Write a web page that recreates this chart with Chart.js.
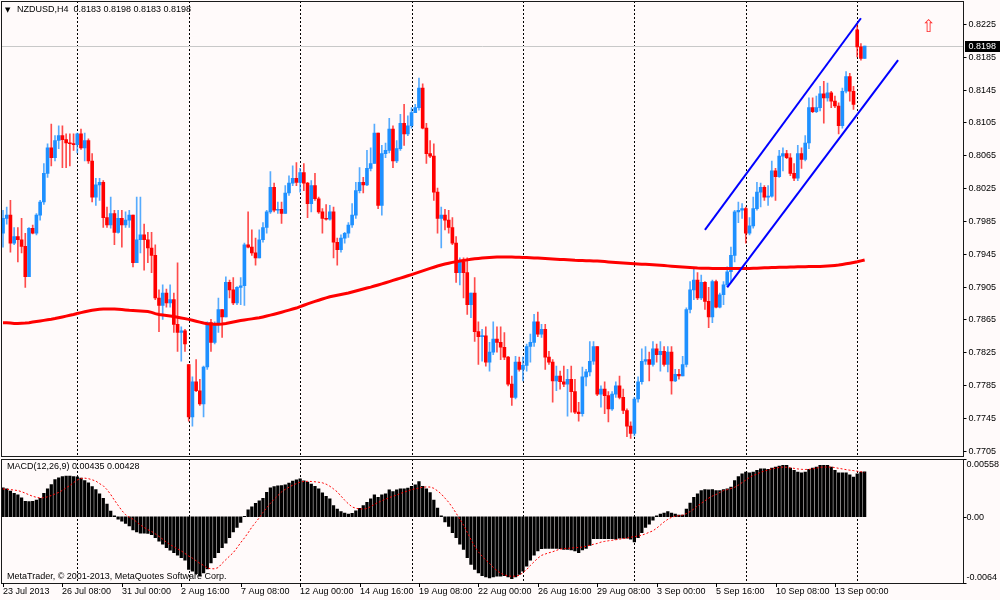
<!DOCTYPE html>
<html><head><meta charset="utf-8">
<script src="https://cdn.jsdelivr.net/npm/chart.js@4.4.1/dist/chart.umd.min.js"></script>
<style>
html,body{margin:0;padding:0;background:#FFFAFA;width:1000px;height:600px;overflow:hidden;}
canvas{position:absolute;left:0;}
#main{top:0;} #macd{top:457px;}
</style></head><body>
<canvas id="main" width="1000" height="457"></canvas>
<canvas id="macd" width="1000" height="143"></canvas>
<script>
const SYMBOL = 'NZDUSD,H4';
const open = [
0.7970,0.7988,0.7992,0.7958,0.7966,0.7962,0.7954,0.7917,0.7976,0.7970,
0.7992,0.8008,0.8043,0.8074,0.8062,0.8083,0.8089,0.8084,0.8080,0.8079,
0.8078,0.8091,0.8074,0.8083,0.8058,0.8014,0.8029,0.8032,0.7989,0.7980,
0.7994,0.7971,0.7988,0.7980,0.7986,0.7992,0.7934,0.7962,0.7968,0.7962,
0.7952,0.7943,0.7891,0.7882,0.7897,0.7885,0.7889,0.7859,0.7849,0.7851,
0.7810,0.7746,0.7789,0.7778,0.7762,0.7807,0.7861,0.7837,0.7859,0.7877,
0.7868,0.7910,0.7901,0.7885,0.7904,0.7906,0.7956,0.7953,0.7946,0.7940,
0.7962,0.7977,0.7996,0.8026,0.7998,0.7999,0.7994,0.8019,0.8031,0.8037,
0.8032,0.8044,0.8031,0.8006,0.8028,0.8012,0.7996,0.7988,0.7987,0.7996,
0.7959,0.7950,0.7964,0.7970,0.7980,0.7992,0.8022,0.8032,0.8029,0.8049,
0.8055,0.8092,0.8004,0.8067,0.8071,0.8097,0.8058,0.8073,0.8104,0.8091,
0.8101,0.8117,0.8123,0.8147,0.8098,0.8067,0.8064,0.8020,0.7988,0.7992,
0.7986,0.7977,0.7958,0.7922,0.7935,0.7922,0.7883,0.7897,0.7850,0.7844,
0.7845,0.7813,0.7825,0.7841,0.7837,0.7831,0.7819,0.7786,0.7770,0.7813,
0.7804,0.7809,0.7832,0.7837,0.7862,0.7847,0.7853,0.7819,0.7813,0.7790,
0.7796,0.7789,0.7786,0.7792,0.7777,0.7752,0.7750,0.7795,0.7801,0.7814,
0.7832,0.7774,0.7780,0.7772,0.7756,0.7774,0.7784,0.7770,0.7754,0.7735,
0.7726,0.7768,0.7789,0.7814,0.7816,0.7810,0.7829,0.7822,0.7826,0.7810,
0.7825,0.7790,0.7798,0.7796,0.7810,0.7877,0.7901,0.7913,0.7891,0.7910,
0.7887,0.7868,0.7911,0.7880,0.7895,0.7907,0.7923,0.7943,0.7996,0.7998,
0.8000,0.7970,0.7979,0.8000,0.8020,0.8026,0.8014,0.8015,0.8046,0.8039,
0.8064,0.8067,0.8062,0.8043,0.8037,0.8067,0.8060,0.8080,0.8123,0.8118,
0.8123,0.8140,0.8135,0.8141,0.8131,0.8125,0.8101,0.8143,0.8161,0.8143,
0.8218,0.8197,0.8183];
const high = [
0.7998,0.8002,0.8010,0.7977,0.7977,0.7988,0.7970,0.7977,0.7980,0.7994,
0.8010,0.8055,0.8079,0.8103,0.8089,0.8101,0.8101,0.8091,0.8091,0.8091,
0.8092,0.8097,0.8092,0.8085,0.8067,0.8037,0.8037,0.8034,0.8002,0.8014,
0.7998,0.7998,0.7998,0.7996,0.7998,0.7992,0.8014,0.8014,0.7981,0.7971,
0.7971,0.7956,0.7901,0.7907,0.7902,0.7907,0.7897,0.7934,0.7856,0.7853,
0.7810,0.7795,0.7816,0.7792,0.7808,0.7862,0.7865,0.7862,0.7891,0.7877,
0.7917,0.7913,0.7916,0.7905,0.7916,0.7958,0.7996,0.7974,0.7964,0.7974,
0.7983,0.7998,0.8045,0.8031,0.8008,0.8008,0.8028,0.8040,0.8052,0.8056,
0.8049,0.8055,0.8032,0.8034,0.8043,0.8014,0.8000,0.8005,0.8004,0.8002,
0.7964,0.7968,0.7971,0.7983,0.8006,0.8032,0.8050,0.8038,0.8071,0.8074,
0.8103,0.8092,0.8077,0.8080,0.8110,0.8101,0.8083,0.8115,0.8127,0.8113,
0.8123,0.8127,0.8159,0.8152,0.8104,0.8083,0.8079,0.8025,0.8002,0.7999,
0.7998,0.7989,0.7966,0.7940,0.7940,0.7940,0.7897,0.7916,0.7862,0.7853,
0.7856,0.7837,0.7862,0.7856,0.7856,0.7849,0.7820,0.7796,0.7820,0.7819,
0.7819,0.7835,0.7847,0.7871,0.7874,0.7859,0.7859,0.7826,0.7816,0.7808,
0.7802,0.7808,0.7804,0.7808,0.7792,0.7764,0.7807,0.7804,0.7838,0.7838,
0.7832,0.7784,0.7789,0.7777,0.7777,0.7789,0.7796,0.7780,0.7756,0.7740,
0.7770,0.7795,0.7829,0.7832,0.7825,0.7838,0.7835,0.7838,0.7832,0.7832,
0.7832,0.7804,0.7804,0.7820,0.7879,0.7911,0.7928,0.7922,0.7919,0.7911,
0.7904,0.7913,0.7913,0.7897,0.7911,0.7929,0.7953,0.7998,0.8008,0.8006,
0.8002,0.7989,0.8014,0.8032,0.8031,0.8028,0.8028,0.8058,0.8049,0.8071,
0.8074,0.8071,0.8067,0.8055,0.8077,0.8074,0.8089,0.8135,0.8135,0.8137,
0.8149,0.8155,0.8153,0.8143,0.8137,0.8129,0.8147,0.8167,0.8165,0.8149,
0.8225,0.8201,0.8198];
const low = [
0.7953,0.7981,0.7947,0.7956,0.7935,0.7946,0.7904,0.7917,0.7969,0.7968,
0.7986,0.8005,0.8038,0.8052,0.8058,0.8073,0.8050,0.8050,0.8052,0.8071,
0.8068,0.8072,0.8058,0.8055,0.8008,0.8004,0.8010,0.7977,0.7977,0.7976,
0.7956,0.7970,0.7953,0.7977,0.7977,0.7929,0.7934,0.7946,0.7925,0.7934,
0.7922,0.7889,0.7850,0.7865,0.7880,0.7880,0.7849,0.7826,0.7814,0.7826,
0.7741,0.7735,0.7777,0.7760,0.7746,0.7804,0.7826,0.7835,0.7849,0.7843,
0.7868,0.7891,0.7883,0.7883,0.7883,0.7882,0.7952,0.7943,0.7931,0.7940,
0.7959,0.7970,0.7994,0.7996,0.7994,0.7982,0.7994,0.8016,0.8028,0.8028,
0.8020,0.8022,0.7989,0.7996,0.8010,0.7994,0.7970,0.7986,0.7986,0.7940,
0.7931,0.7947,0.7958,0.7965,0.7977,0.7988,0.8019,0.8019,0.8028,0.8046,
0.8055,0.8000,0.7992,0.8062,0.8068,0.8050,0.8056,0.8071,0.8077,0.8089,
0.8098,0.8117,0.8120,0.8097,0.8055,0.8062,0.8010,0.7970,0.7952,0.7974,
0.7970,0.7956,0.7910,0.7907,0.7891,0.7871,0.7867,0.7838,0.7810,0.7814,
0.7808,0.7802,0.7822,0.7825,0.7816,0.7816,0.7784,0.7760,0.7768,0.7802,
0.7790,0.7802,0.7813,0.7832,0.7844,0.7843,0.7804,0.7810,0.7764,0.7778,
0.7780,0.7783,0.7747,0.7752,0.7750,0.7741,0.7747,0.7784,0.7796,0.7810,
0.7772,0.7758,0.7750,0.7740,0.7754,0.7770,0.7768,0.7750,0.7722,0.7720,
0.7723,0.7764,0.7786,0.7810,0.7790,0.7808,0.7813,0.7802,0.7808,0.7801,
0.7774,0.7789,0.7792,0.7796,0.7807,0.7873,0.7889,0.7889,0.7889,0.7877,
0.7855,0.7861,0.7879,0.7879,0.7883,0.7905,0.7910,0.7935,0.7983,0.7988,
0.7958,0.7968,0.7976,0.7998,0.8002,0.8010,0.8004,0.8014,0.8010,0.8038,
0.8046,0.8061,0.8040,0.8034,0.8034,0.8049,0.8058,0.8073,0.8117,0.8117,
0.8119,0.8104,0.8131,0.8123,0.8123,0.8091,0.8098,0.8141,0.8131,0.8121,
0.8185,0.8181,0.8183];
const close = [
0.7988,0.7992,0.7958,0.7966,0.7962,0.7954,0.7917,0.7976,0.7970,0.7992,
0.8008,0.8043,0.8074,0.8062,0.8083,0.8089,0.8084,0.8080,0.8079,0.8078,
0.8091,0.8074,0.8083,0.8058,0.8014,0.8029,0.8032,0.7989,0.7980,0.7994,
0.7971,0.7988,0.7980,0.7986,0.7992,0.7934,0.7962,0.7968,0.7962,0.7952,
0.7943,0.7891,0.7882,0.7897,0.7885,0.7889,0.7859,0.7849,0.7851,0.7835,
0.7746,0.7789,0.7778,0.7762,0.7807,0.7861,0.7837,0.7859,0.7877,0.7868,
0.7910,0.7901,0.7885,0.7904,0.7906,0.7956,0.7953,0.7946,0.7940,0.7962,
0.7977,0.7996,0.8026,0.7998,0.7999,0.7994,0.8019,0.8031,0.8037,0.8032,
0.8044,0.8031,0.8006,0.8028,0.8012,0.7996,0.7988,0.7987,0.7996,0.7959,
0.7950,0.7964,0.7970,0.7980,0.7992,0.8022,0.8032,0.8029,0.8049,0.8055,
0.8092,0.8004,0.8067,0.8071,0.8097,0.8058,0.8073,0.8104,0.8091,0.8101,
0.8117,0.8123,0.8147,0.8098,0.8067,0.8064,0.8020,0.7988,0.7992,0.7986,
0.7977,0.7958,0.7922,0.7935,0.7922,0.7883,0.7897,0.7850,0.7844,0.7845,
0.7813,0.7825,0.7841,0.7837,0.7831,0.7819,0.7786,0.7770,0.7813,0.7804,
0.7809,0.7832,0.7837,0.7862,0.7847,0.7853,0.7819,0.7813,0.7790,0.7796,
0.7789,0.7786,0.7792,0.7777,0.7752,0.7750,0.7795,0.7801,0.7814,0.7832,
0.7774,0.7780,0.7772,0.7756,0.7774,0.7784,0.7770,0.7754,0.7735,0.7726,
0.7768,0.7789,0.7814,0.7816,0.7810,0.7829,0.7822,0.7826,0.7810,0.7825,
0.7790,0.7798,0.7796,0.7810,0.7877,0.7901,0.7913,0.7891,0.7910,0.7887,
0.7868,0.7911,0.7880,0.7895,0.7907,0.7923,0.7943,0.7996,0.7998,0.8000,
0.7970,0.7979,0.8000,0.8020,0.8026,0.8014,0.8015,0.8046,0.8039,0.8064,
0.8067,0.8062,0.8043,0.8037,0.8067,0.8060,0.8080,0.8123,0.8118,0.8123,
0.8140,0.8135,0.8141,0.8131,0.8125,0.8101,0.8143,0.8161,0.8143,0.8127,
0.8197,0.8183,0.8198];
const movingAverage = [
0.78610,0.78610,0.78605,0.78600,0.78600,0.78602,0.78605,0.78610,0.78617,0.78623,
0.78630,0.78638,0.78646,0.78652,0.78660,0.78670,0.78680,0.78690,0.78700,0.78710,
0.78722,0.78732,0.78742,0.78752,0.78760,0.78768,0.78773,0.78776,0.78777,0.78777,
0.78775,0.78772,0.78769,0.78765,0.78760,0.78757,0.78754,0.78751,0.78748,0.78745,
0.78735,0.78720,0.78710,0.78704,0.78698,0.78692,0.78685,0.78676,0.78668,0.78659,
0.78650,0.78639,0.78628,0.78616,0.78605,0.78598,0.78593,0.78590,0.78592,0.78595,
0.78600,0.78609,0.78618,0.78627,0.78636,0.78643,0.78650,0.78656,0.78663,0.78670,
0.78680,0.78691,0.78702,0.78713,0.78725,0.78737,0.78750,0.78763,0.78776,0.78788,
0.78805,0.78822,0.78840,0.78855,0.78869,0.78883,0.78898,0.78912,0.78926,0.78935,
0.78944,0.78953,0.78962,0.78971,0.78983,0.78995,0.79008,0.79020,0.79033,0.79043,
0.79056,0.79069,0.79082,0.79096,0.79110,0.79125,0.79139,0.79153,0.79167,0.79182,
0.79196,0.79211,0.79226,0.79241,0.79256,0.79271,0.79285,0.79300,0.79313,0.79324,
0.79335,0.79345,0.79353,0.79361,0.79368,0.79375,0.79382,0.79388,0.79393,0.79397,
0.79401,0.79405,0.79408,0.79410,0.79410,0.79410,0.79409,0.79409,0.79408,0.79407,
0.79405,0.79403,0.79401,0.79399,0.79397,0.79395,0.79393,0.79390,0.79387,0.79384,
0.79381,0.79379,0.79376,0.79373,0.79370,0.79369,0.79367,0.79365,0.79364,0.79362,
0.79360,0.79357,0.79354,0.79350,0.79347,0.79343,0.79340,0.79338,0.79335,0.79332,
0.79329,0.79326,0.79323,0.79321,0.79318,0.79315,0.79313,0.79310,0.79306,0.79302,
0.79298,0.79294,0.79290,0.79287,0.79284,0.79281,0.79278,0.79275,0.79274,0.79273,
0.79272,0.79271,0.79270,0.79270,0.79270,0.79270,0.79270,0.79270,0.79270,0.79270,
0.79270,0.79270,0.79272,0.79274,0.79276,0.79278,0.79280,0.79281,0.79283,0.79284,
0.79285,0.79286,0.79287,0.79288,0.79290,0.79291,0.79292,0.79293,0.79294,0.79294,
0.79295,0.79298,0.79301,0.79304,0.79308,0.79313,0.79320,0.79327,0.79335,0.79343,
0.79352,0.79363,0.79374];
const macdMain = [
0.00279,0.00269,0.00247,0.00227,0.00211,0.00182,0.00149,0.00146,0.00149,0.00162,
0.00179,0.00227,0.00269,0.00312,0.00360,0.00376,0.00389,0.00393,0.00393,0.00389,
0.00386,0.00373,0.00350,0.00328,0.00292,0.00263,0.00221,0.00179,0.00123,0.00055,
0.00010,-0.00023,-0.00042,-0.00065,-0.00088,-0.00127,-0.00146,-0.00159,-0.00159,-0.00162,
-0.00172,-0.00201,-0.00237,-0.00266,-0.00299,-0.00324,-0.00347,-0.00370,-0.00396,-0.00419,
-0.00509,-0.00526,-0.00549,-0.00568,-0.00542,-0.00503,-0.00445,-0.00396,-0.00347,-0.00299,
-0.00256,-0.00201,-0.00146,-0.00104,-0.00055,0.00005,0.00068,0.00097,0.00130,0.00153,
0.00179,0.00237,0.00279,0.00292,0.00299,0.00302,0.00309,0.00325,0.00344,0.00357,
0.00367,0.00348,0.00334,0.00315,0.00295,0.00269,0.00231,0.00198,0.00172,0.00107,
0.00075,0.00049,0.00036,0.00026,0.00032,0.00058,0.00081,0.00107,0.00139,0.00172,
0.00211,0.00188,0.00211,0.00221,0.00260,0.00243,0.00260,0.00269,0.00269,0.00276,
0.00295,0.00309,0.00341,0.00295,0.00269,0.00234,0.00162,0.00083,0.00010,-0.00049,
-0.00094,-0.00153,-0.00201,-0.00266,-0.00315,-0.00396,-0.00461,-0.00509,-0.00542,-0.00568,
-0.00581,-0.00591,-0.00581,-0.00574,-0.00574,-0.00568,-0.00581,-0.00597,-0.00581,-0.00558,
-0.00526,-0.00477,-0.00419,-0.00370,-0.00331,-0.00308,-0.00305,-0.00305,-0.00305,-0.00305,
-0.00308,-0.00315,-0.00315,-0.00321,-0.00331,-0.00347,-0.00321,-0.00305,-0.00276,-0.00211,
-0.00211,-0.00211,-0.00211,-0.00211,-0.00211,-0.00217,-0.00208,-0.00208,-0.00208,-0.00217,
-0.00243,-0.00201,-0.00153,-0.00104,-0.00071,-0.00032,0.00010,0.00026,0.00036,0.00049,
0.00036,0.00026,0.00016,0.00016,0.00075,0.00133,0.00188,0.00221,0.00253,0.00263,
0.00260,0.00263,0.00253,0.00253,0.00263,0.00269,0.00286,0.00350,0.00389,0.00415,
0.00432,0.00425,0.00432,0.00448,0.00464,0.00464,0.00458,0.00471,0.00480,0.00490,
0.00497,0.00497,0.00471,0.00448,0.00432,0.00425,0.00432,0.00458,0.00471,0.00480,
0.00497,0.00497,0.00497,0.00480,0.00448,0.00425,0.00425,0.00425,0.00406,0.00383,
0.00415,0.00432,0.00435];
const macdSignal = [
0.00269,0.00266,0.00262,0.00258,0.00253,0.00242,0.00228,0.00212,0.00198,0.00188,
0.00182,0.00184,0.00193,0.00205,0.00220,0.00235,0.00255,0.00280,0.00302,0.00330,
0.00355,0.00370,0.00373,0.00368,0.00357,0.00345,0.00320,0.00299,0.00262,0.00215,
0.00160,0.00110,0.00060,0.00020,-0.00005,-0.00023,-0.00050,-0.00080,-0.00104,-0.00125,
-0.00142,-0.00165,-0.00190,-0.00217,-0.00245,-0.00270,-0.00290,-0.00310,-0.00330,-0.00355,
-0.00380,-0.00400,-0.00425,-0.00450,-0.00470,-0.00495,-0.00502,-0.00503,-0.00490,-0.00450,
-0.00415,-0.00380,-0.00347,-0.00300,-0.00250,-0.00205,-0.00155,-0.00100,-0.00055,-0.00010,
0.00042,0.00085,0.00130,0.00170,0.00205,0.00240,0.00265,0.00285,0.00305,0.00320,
0.00335,0.00341,0.00342,0.00341,0.00338,0.00333,0.00328,0.00315,0.00295,0.00269,
0.00240,0.00200,0.00160,0.00125,0.00095,0.00082,0.00076,0.00075,0.00080,0.00098,
0.00120,0.00138,0.00155,0.00170,0.00185,0.00198,0.00210,0.00225,0.00238,0.00250,
0.00262,0.00270,0.00278,0.00285,0.00288,0.00287,0.00275,0.00250,0.00220,0.00180,
0.00140,0.00090,0.00035,-0.00023,-0.00080,-0.00150,-0.00220,-0.00285,-0.00340,-0.00380,
-0.00420,-0.00450,-0.00490,-0.00520,-0.00545,-0.00562,-0.00572,-0.00575,-0.00574,-0.00565,
-0.00540,-0.00510,-0.00470,-0.00435,-0.00400,-0.00373,-0.00360,-0.00348,-0.00338,-0.00325,
-0.00312,-0.00308,-0.00305,-0.00302,-0.00299,-0.00297,-0.00293,-0.00285,-0.00275,-0.00266,
-0.00258,-0.00245,-0.00238,-0.00232,-0.00227,-0.00222,-0.00216,-0.00211,-0.00206,-0.00198,
-0.00192,-0.00185,-0.00178,-0.00165,-0.00150,-0.00136,-0.00110,-0.00080,-0.00050,-0.00025,
-0.00005,0.00005,0.00010,0.00016,0.00030,0.00050,0.00075,0.00105,0.00130,0.00155,
0.00180,0.00200,0.00215,0.00235,0.00253,0.00262,0.00272,0.00285,0.00305,0.00330,
0.00355,0.00380,0.00399,0.00412,0.00430,0.00442,0.00452,0.00462,0.00470,0.00476,
0.00480,0.00478,0.00472,0.00468,0.00462,0.00458,0.00457,0.00458,0.00462,0.00470,
0.00478,0.00480,0.00480,0.00480,0.00475,0.00468,0.00462,0.00455,0.00450,0.00446,
0.00440,0.00435,0.00428];
const xTickIndex = [0,16,32,48,64,80,96,112,128,144,160,176,192,208,224];
const xTickLabel = ['23 Jul 2013','26 Jul 08:00','31 Jul 00:00','2 Aug 16:00','7 Aug 08:00','12 Aug 00:00','14 Aug 16:00','19 Aug 08:00','22 Aug 00:00','26 Aug 16:00','29 Aug 08:00','3 Sep 00:00','5 Sep 16:00','10 Sep 08:00','13 Sep 00:00'];
const weekStartIndex = [20,50,80,110,140,170,200,230];
const priceTicks = [0.8225,0.8185,0.8145,0.8105,0.8065,0.8025,0.7985,0.7945,0.7905,0.7865,0.7825,0.7785,0.7745,0.7705];
const macdTickValue = [0.00558, 0, -0.0064];
const macdTickLabel = ['0.00558', '0.00', '-0.0064'];
const channelUpper = [{x:189, y:0.7974}, {x:231, y:0.8232}];
const channelLower = [{x:195, y:0.7904}, {x:241, y:0.8181}];
const arrowMark = {x:249.25, y:0.8221};
const MACD_PARAMS = '(12,26,9)';

// ---- layout constants ----
const SLOT_COUNT = 258;
const PAD = {left:1.143, right:40.65};
const FRAME_RIGHT = 963.5;
const FONT = '9px "Liberation Sans", Arial, sans-serif';
const BULL = '#1E90FF', BEAR = '#FF0000';
const N = close.length;
const slots = Array.from({length: SLOT_COUNT}, (_, i) => i);
const isBull = i => close[i] >= open[i];

function separators(chart, y0, y1) {
  const {ctx, scales:{x}} = chart;
  ctx.save();
  ctx.strokeStyle = '#000'; ctx.lineWidth = 1; ctx.setLineDash([2,2]);
  weekStartIndex.forEach(i => {
    const px = Math.round(x.getPixelForValue(i)) + 0.5;
    ctx.beginPath(); ctx.moveTo(px, y0); ctx.lineTo(px, y1); ctx.stroke();
  });
  ctx.restore();
}
function frame(ctx, l, t, r, b) {
  ctx.save(); ctx.strokeStyle = '#1a1a1a'; ctx.lineWidth = 1;
  ctx.strokeRect(l, t, r - l, b - t); ctx.restore();
}

const mainDecor = {
  id: 'mainDecor',
  beforeDatasetsDraw(chart) {
    const {ctx, chartArea: ca, scales:{y}} = chart;
    separators(chart, ca.top, ca.bottom);
    const by = Math.round(y.getPixelForValue(close[N-1])) + 0.5;
    ctx.save(); ctx.strokeStyle = '#C8C8C8'; ctx.lineWidth = 1;
    ctx.beginPath(); ctx.moveTo(ca.left, by); ctx.lineTo(FRAME_RIGHT, by); ctx.stroke();
    ctx.restore();
  },
  afterDraw(chart) {
    const {ctx, chartArea: ca, scales:{x, y}} = chart;
    frame(ctx, 1.5, ca.top + 0.5, FRAME_RIGHT, ca.bottom + 0.5);
    ctx.save();
    ctx.font = FONT; ctx.fillStyle = '#000'; ctx.textBaseline = 'middle'; ctx.textAlign = 'left';
    ctx.strokeStyle = '#000'; ctx.lineWidth = 1;
    priceTicks.forEach(v => {
      const py = Math.round(y.getPixelForValue(v)) + 0.5;
      ctx.beginPath(); ctx.moveTo(FRAME_RIGHT, py); ctx.lineTo(FRAME_RIGHT + 3, py); ctx.stroke();
      ctx.fillText(v.toFixed(4), FRAME_RIGHT + 5, py);
    });
    // bid label box
    const by = Math.round(y.getPixelForValue(close[N-1]));
    ctx.fillStyle = '#000';
    ctx.fillRect(FRAME_RIGHT + 1.5, by - 5, 35, 11);
    ctx.fillStyle = '#fff';
    ctx.fillText(close[N-1].toFixed(4), FRAME_RIGHT + 5, by + 0.5);
    // title
    ctx.fillStyle = '#000';
    ctx.font = '7px "DejaVu Sans", sans-serif';
    ctx.fillText('\u25BC', 5, 10);
    ctx.font = FONT;
    ctx.fillText(SYMBOL + '  ' + [open[N-1], high[N-1], low[N-1], close[N-1]].map(v => v.toFixed(4)).join(' '), 17, 10);
    // arrow object
    ctx.font = '17px "DejaVu Sans", sans-serif';
    ctx.fillStyle = '#FF2A2A'; ctx.textAlign = 'center';
    ctx.fillText('\u21E7', x.getPixelForValue(arrowMark.x), y.getPixelForValue(arrowMark.y));
    ctx.restore();
  }
};

new Chart(document.getElementById('main'), {
  type: 'bar',
  data: {
    labels: slots,
    datasets: [
      { type:'line', data: channelUpper, borderColor:'#0000FF', borderWidth:2, pointRadius:0, order:0 },
      { type:'line', data: channelLower, borderColor:'#0000FF', borderWidth:2, pointRadius:0, order:0 },
      { type:'line', data: movingAverage, borderColor:'#FF0000', borderWidth:3, pointRadius:0, tension:0, order:0 },
      { data: open.map((o, i) => [o, close[i]]), barThickness:3, minBarLength:1, grouped:false, order:1,
        backgroundColor: c => isBull(c.dataIndex) ? BULL : BEAR },
      { data: high.map((h, i) => [low[i], h]), barThickness:1, grouped:false, order:2,
        backgroundColor: c => isBull(c.dataIndex) ? 'rgba(30,144,255,0.75)' : 'rgba(255,0,0,0.7)' }
    ]
  },
  options: {
    animation:false, responsive:false, devicePixelRatio:1, events:[],
    layout:{ padding:{ left:PAD.left, right:PAD.right, top:1, bottom:1 } },
    plugins:{ legend:{display:false}, tooltip:{enabled:false} },
    scales:{
      x:{ type:'category', display:false, offset:true },
      y:{ type:'linear', display:false, min:0.76985, max:0.82530 }
    }
  },
  plugins:[mainDecor]
});

const macdDecor = {
  id: 'macdDecor',
  beforeDatasetsDraw(chart) {
    const {chartArea: ca} = chart;
    separators(chart, ca.top, ca.bottom);
  },
  afterDraw(chart) {
    const {ctx, chartArea: ca, scales:{x, y}} = chart;
    frame(ctx, 1.5, ca.top + 0.5, FRAME_RIGHT, ca.bottom + 0.5);
    ctx.save();
    ctx.font = FONT; ctx.fillStyle = '#000'; ctx.strokeStyle = '#000'; ctx.lineWidth = 1;
    ctx.textAlign = 'left';
    macdTickValue.forEach((v, k) => {
      const py = Math.round(y.getPixelForValue(v)) + 0.5;
      ctx.beginPath(); ctx.moveTo(FRAME_RIGHT, py); ctx.lineTo(FRAME_RIGHT + 3, py); ctx.stroke();
      ctx.textBaseline = k === 0 ? 'top' : (k === macdTickValue.length - 1 ? 'bottom' : 'middle');
      ctx.fillText(macdTickLabel[k], FRAME_RIGHT + 3, k === 0 ? py + 0.5 : (k === macdTickValue.length - 1 ? py - 1 : py));
    });
    // time axis
    ctx.textBaseline = 'middle';
    xTickIndex.forEach((idx, k) => {
      const px = Math.round(x.getPixelForValue(idx)) + 0.5;
      ctx.beginPath(); ctx.moveTo(px, ca.bottom); ctx.lineTo(px, ca.bottom + 4); ctx.stroke();
      ctx.fillText(xTickLabel[k], px - 0.5, ca.bottom + 8.5);
    });
    ctx.textBaseline = 'middle';
    ctx.fillText('MACD' + MACD_PARAMS + ' ' + macdMain[N-1].toFixed(5) + ' ' + macdSignal[N-1].toFixed(5), 7, ca.top + 8);
    ctx.fillText('MetaTrader, \u00A9 2001-2013, MetaQuotes Software Corp.', 7, ca.bottom - 6);
    ctx.restore();
  }
};

new Chart(document.getElementById('macd'), {
  type: 'bar',
  data: {
    labels: slots,
    datasets: [
      { type:'line', data: macdSignal, borderColor:'#FF0000', borderWidth:1, borderDash:[2,2], pointRadius:0, order:0 },
      { data: macdMain, backgroundColor:'#000000', barThickness:2.6, grouped:false, order:1 }
    ]
  },
  options: {
    animation:false, responsive:false, devicePixelRatio:1, events:[],
    layout:{ padding:{ left:PAD.left, right:PAD.right, top:2, bottom:17 } },
    plugins:{ legend:{display:false}, tooltip:{enabled:false} },
    scales:{
      x:{ type:'category', display:false, offset:true },
      y:{ type:'linear', display:false, min:-0.0064, max:0.00558 }
    }
  },
  plugins:[macdDecor]
});
</script>
</body></html>
